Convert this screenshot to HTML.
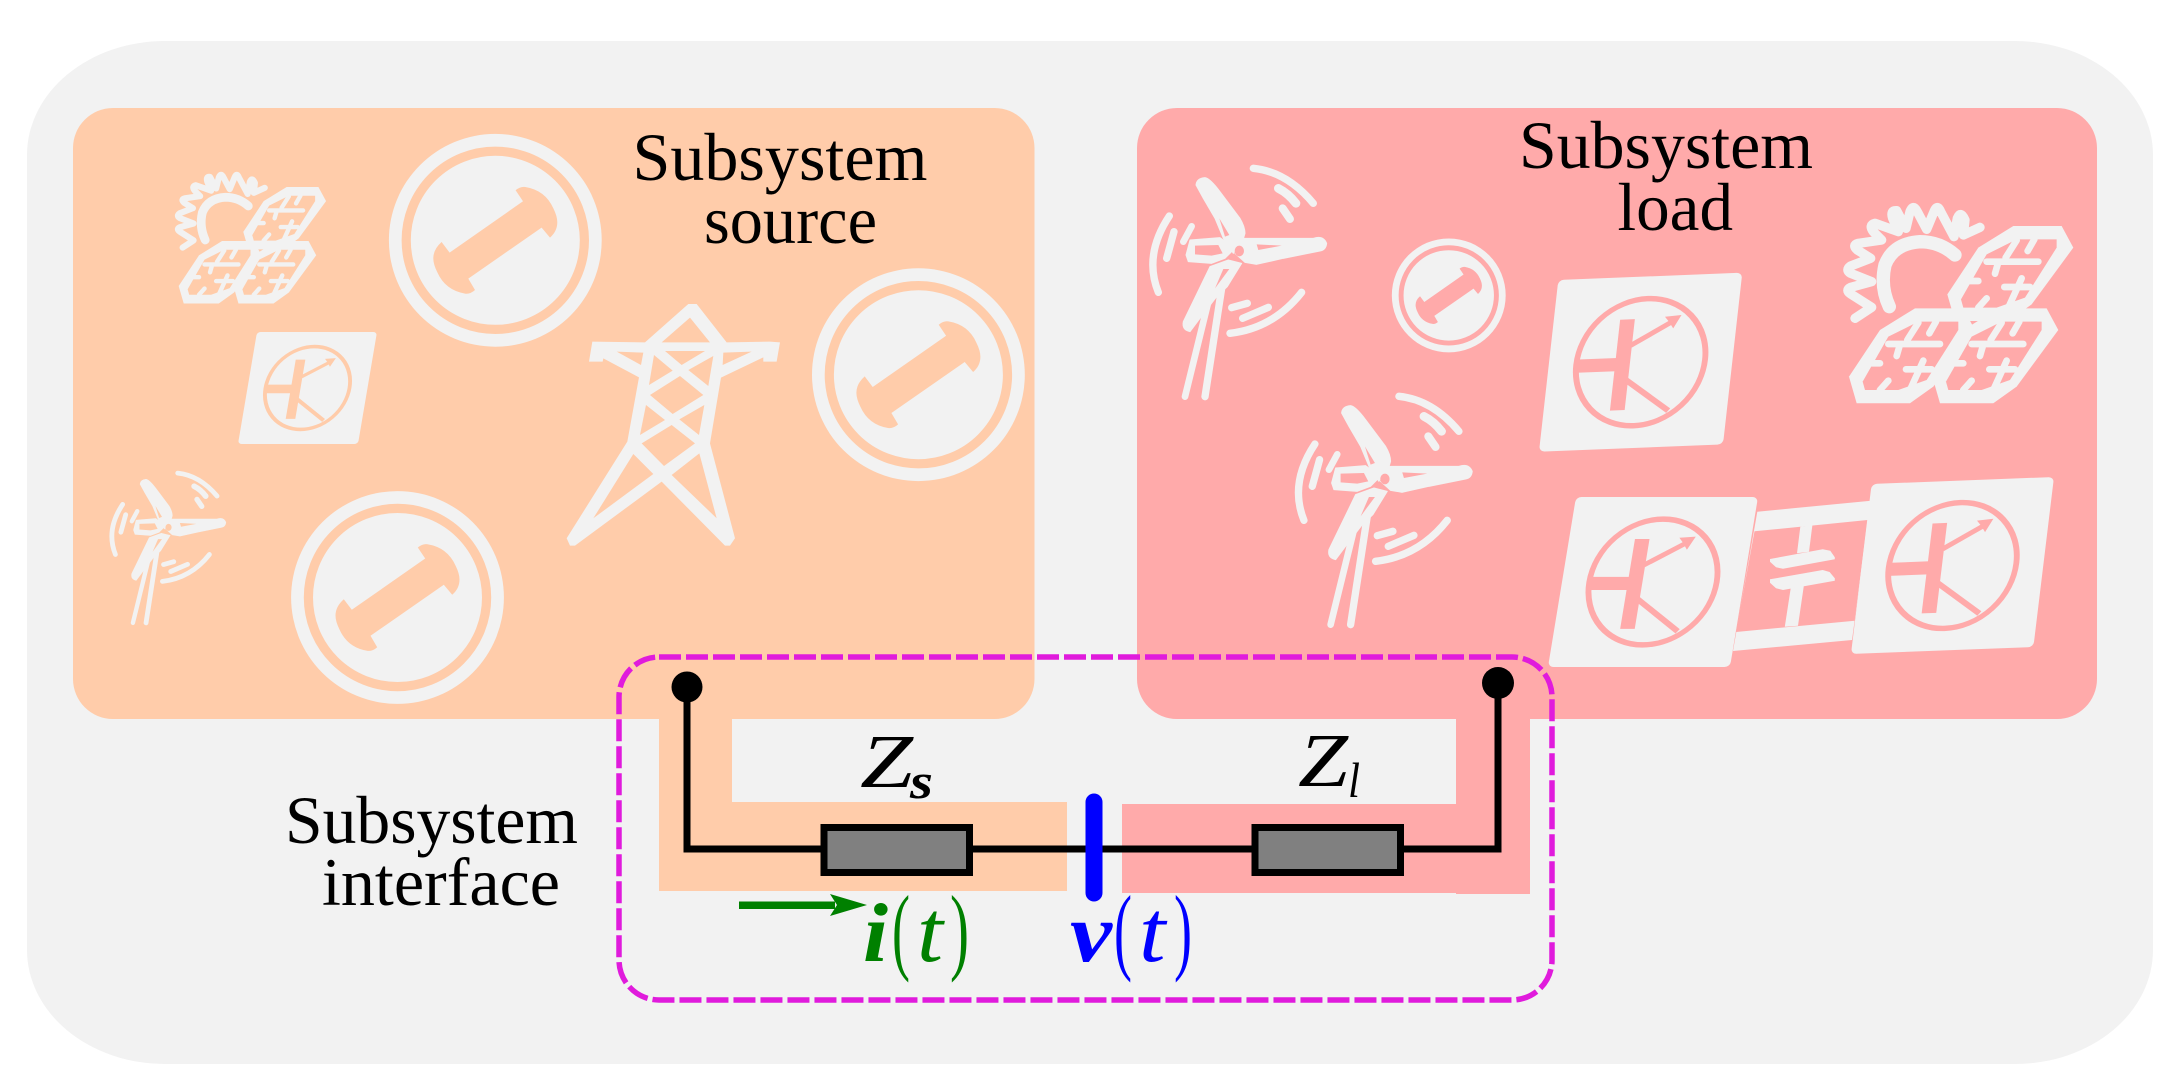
<!DOCTYPE html>
<html><head><meta charset="utf-8"><style>html,body{margin:0;padding:0;background:#fff}svg{display:block}text{font-family:"Liberation Serif",serif}</style></head>
<body>
<svg xmlns="http://www.w3.org/2000/svg" width="2175" height="1083" viewBox="0 0 2175 1083">
<defs>
<g id="machine">
<circle r="106.4" fill="#f2f2f2"/>
<circle r="89.1" fill="none" stroke="currentColor" stroke-width="9.2"/>
<path fill="currentColor" d="M20.3,-50 Q25,-54 30,-53.3 Q50,-50 58,-32 Q62,-24 62,-18 Q62,-9 54.7,-2.7 L46.3,-12.7 L-27,38.3 L-20.3,49.7 Q-25,54 -30.3,53.3 Q-50,50 -58,32 Q-62,24 -62,18 Q-62,9 -53.7,1.7 L-45.7,12.3 L27.7,-39 Z"/>
</g>
<g id="tile">
<rect x="0" y="0" width="100" height="100" rx="3" ry="3" fill="#f2f2f2"/>
<ellipse cx="50" cy="50" rx="35" ry="37" fill="none" stroke="currentColor" stroke-width="3.2"/>
<rect x="36.2" y="24.7" width="8" height="52.9" fill="currentColor"/>
<rect x="14" y="47" width="23" height="7.7" fill="currentColor"/>
<path d="M43.5,40 L64,27.5" stroke="currentColor" stroke-width="3" fill="none"/>
<polygon points="69.4,23.3 60.5,24 63,27 65.7,31" fill="currentColor"/>
<path d="M43,60 L68,79" stroke="currentColor" stroke-width="3.2" fill="none"/>
</g>
<g id="panel">
<polygon points="255,355 400,355 435,420 310,590 240,640 80,640 57,560 150,420" fill="#f2f2f2"/>
<polygon points="265,395 385,395 385,420 290,570 205,600 105,600 98,575 175,440" fill="currentColor"/>
<g stroke="#f2f2f2" stroke-width="20" stroke-linecap="round" fill="none">
<path d="M175,462 L330,462"/>
<path d="M265,398 L232,450"/>
<path d="M318,395 L298,430"/>
<path d="M208,470 L200,498"/>
<path d="M125,520 L150,520"/>
<path d="M228,538 L305,538"/>
<path d="M280,512 L240,600"/>
<path d="M175,572 L150,600"/>
</g>
</g>
<g id="solar">
<path d="M75,385 L125,352 L62,312 Q45,300 62,292 L125,275 L62,250 Q45,240 62,228 L122,205 L82,180 Q65,165 85,160 L155,150 L130,125 Q115,105 135,100 L205,125 L188,85 Q180,60 200,62 L228,115 L240,65 Q250,40 262,65 L290,118 L312,65 Q322,40 332,65 L372,140 L382,85 Q392,60 405,90 L400,135 L450,112" fill="none" stroke="#f2f2f2" stroke-width="28" stroke-linejoin="round" stroke-linecap="round"/>
<path d="M178,350 Q150,290 165,225 Q190,160 270,155 Q330,155 375,195" fill="none" stroke="#f2f2f2" stroke-width="40" stroke-linecap="round"/>
<use href="#panel" transform="translate(295,-247)"/>
<use href="#panel"/>
<use href="#panel" transform="translate(250,0)"/>
</g>
<g id="turbine">
<g stroke="#f2f2f2" fill="none" stroke-linecap="round">
<path d="M340,40 Q440,50 520,145" stroke-width="22"/>
<path d="M415,100 Q445,115 468,145" stroke-width="26"/>
<path d="M428,160 L450,192" stroke-width="24"/>
<path d="M88,183 Q10,300 55,412" stroke-width="22"/>
<path d="M102,230 L80,310" stroke-width="22"/>
<path d="M155,214 L130,260" stroke-width="20"/>
<path d="M270,535 Q400,520 485,412" stroke-width="22"/>
<path d="M308,490 L385,457" stroke-width="22"/>
<path d="M275,458 L322,445" stroke-width="22"/>
<path d="M205,440 L135,725" stroke-width="20"/>
<path d="M245,400 L195,725" stroke-width="22"/>
</g>
<g fill="#f2f2f2" stroke="#f2f2f2" stroke-width="3" stroke-linejoin="round">
<path d="M168,90 Q170,70 195,68 Q210,70 240,110 L300,190 Q315,215 315,235 L310,252 L280,295 L250,250 L225,190 L190,130 Z"/>
<path d="M310,250 L400,250 L520,250 Q550,240 560,265 Q558,285 540,288 L430,310 L350,328 L315,322 L285,295 Z"/>
<path d="M210,335 L265,315 L305,325 L262,395 L230,425 L180,490 L150,530 Q125,525 130,500 Z"/>
<path d="M150,255 L240,248 L285,280 L255,310 L215,325 L145,320 L138,300 Z"/>
</g>
<g fill="currentColor">
<polygon points="238,190 268,240 255,245"/>
<polygon points="350,268 425,272 355,285"/>
<polygon points="250,342 268,342 225,400"/>
<polygon points="165,272 235,270 248,295 215,302 165,298"/>
<ellipse cx="298" cy="288" rx="14" ry="16"/>
</g>
</g>
</defs>

<rect width="2175" height="1083" fill="#fff"/>
<rect x="27" y="41" width="2126" height="1023" rx="138" ry="114" fill="#f2f2f2"/>

<rect x="73" y="108" width="961.5" height="611" rx="40" ry="40" fill="#ffccaa"/>
<rect x="1137" y="108" width="960" height="611" rx="40" ry="40" fill="#ffaaaa"/>
<polygon points="659,700 732,700 732,802 1067,802 1067,891 659,891" fill="#ffccaa"/>
<polygon points="1456,700 1456,804 1122,804 1122,893 1456,893 1456,894 1530,894 1530,700" fill="#ffaaaa"/>

<g style="color:#ffccaa">
<use href="#machine" transform="translate(495.3,240.3)"/>
<use href="#machine" transform="translate(918.4,374.7)"/>
<use href="#machine" transform="translate(397.5,597.5)"/>
<use href="#tile" transform="matrix(1.2,0,-0.19,1.12,257,332)"/>
<use href="#solar" transform="translate(166.2,163.3) scale(0.219)"/>
<use href="#turbine" transform="translate(103.4,464.4) scale(0.2186)"/>
<g transform="translate(550,280) scale(0.3333)">
<polygon fill="#f2f2f2" points="415,72 440,72 530,187 660,185 690,187 680,245 640,245 640,232 513,293 480,490 555,775 540,797 525,797 335,605 75,797 60,797 50,775 232,485 267,292 160,235 158,245 117,245 127,185 285,187"/>
<g fill="#ffccaa">
<polygon points="420,113 480,187 335,187"/>
<polygon points="200,215 280,218 273,255"/>
<polygon points="520,218 605,215 518,255"/>
<polygon points="345,213 465,213 395,255"/>
<polygon points="312,225 368,272 297,315"/>
<polygon points="490,228 475,318 415,270"/>
<polygon points="390,288 460,345 368,402 300,345"/>
<polygon points="288,375 345,420 270,465"/>
<polygon points="463,375 447,465 388,418"/>
<polygon points="365,435 435,490 342,558 275,490"/>
<polygon points="250,522 310,582 130,715"/>
<polygon points="448,520 500,715 365,585"/>
</g>
</g>
</g>

<g style="color:#ffaaaa">
<use href="#machine" transform="translate(1448.75,295.4) scale(0.535)"/>
<use href="#turbine" transform="translate(1140,155) scale(0.3333)"/>
<use href="#turbine" transform="translate(1285.6,383) scale(0.3333)"/>
<use href="#tile" transform="matrix(1.84,-0.073,-0.193,1.717,1558.3,280)"/>
<use href="#solar" transform="translate(1830,190) scale(0.3333)"/>
<polygon points="1757.3,511.7 1870.9,500.7 1852,640 1733,651" fill="#f2f2f2"/>
<polygon points="1754.5,531.3 1867.5,520 1854.7,620.7 1736,632" fill="#ffaaaa"/>
<g fill="#f2f2f2">
<polygon points="1800.3,526.7 1812.4,525 1809,551.7 1797,553.3"/>
<polygon points="1770,559 1822.7,549.3 1830.3,550.7 1834.8,557.3 1834.8,559.3 1783,568.7 1776,567.3 1770,561.7"/>
<polygon points="1770,579.3 1822.7,570 1829.6,572 1834.8,578.3 1834.8,580.7 1783,590 1776,588.3 1770,582.7"/>
<polygon points="1790.7,588.3 1803.8,586 1798,625.7 1784.8,626.7"/>
</g>
<use href="#tile" transform="matrix(1.82,0,-0.28,1.70,1576,497)"/>
<use href="#tile" transform="matrix(1.824,-0.07,-0.206,1.70,1871.6,484)"/>
</g>

<g fill="#000" font-size="68">
<text x="632.5" y="180" textLength="295" lengthAdjust="spacingAndGlyphs">Subsystem</text>
<text x="704" y="243" textLength="173" lengthAdjust="spacingAndGlyphs">source</text>
<text x="1519" y="168" textLength="294" lengthAdjust="spacingAndGlyphs">Subsystem</text>
<text x="1617.5" y="230" textLength="115.5" lengthAdjust="spacingAndGlyphs">load</text>
<text x="285" y="843" textLength="293" lengthAdjust="spacingAndGlyphs">Subsystem</text>
<text x="322" y="905" textLength="238" lengthAdjust="spacingAndGlyphs">interface</text>
</g>

<path d="M687,687 L687,849 L1498,849 L1498,683" fill="none" stroke="#000" stroke-width="7"/>
<rect x="824" y="827.5" width="145.5" height="45" fill="#808080" stroke="#000" stroke-width="7"/>
<rect x="1255" y="827.5" width="145.5" height="45" fill="#808080" stroke="#000" stroke-width="7"/>
<circle cx="687" cy="687" r="15.5" fill="#000"/>
<circle cx="1498" cy="683" r="16" fill="#000"/>
<line x1="1094" y1="802" x2="1094" y2="893" stroke="#0000ff" stroke-width="17" stroke-linecap="round"/>

<text x="860" y="787" font-size="76" font-style="italic" textLength="53" lengthAdjust="spacingAndGlyphs">Z</text>
<text x="910" y="798" font-size="50" font-style="italic" font-weight="bold" textLength="23" lengthAdjust="spacingAndGlyphs">s</text>
<text x="1298" y="786" font-size="76" font-style="italic" textLength="50" lengthAdjust="spacingAndGlyphs">Z</text>
<text x="1348" y="797" font-size="50" font-style="italic" textLength="12" lengthAdjust="spacingAndGlyphs">l</text>

<g fill="#008000">
<rect x="739" y="901.5" width="96" height="7.5"/>
<polygon points="867,905 830,894 837,905 830,916"/>
<text x="863" y="961" font-size="84" font-style="italic" font-weight="bold" textLength="25" lengthAdjust="spacingAndGlyphs">i</text>
<text x="892" y="962" font-size="96" textLength="18" lengthAdjust="spacingAndGlyphs">(</text>
<text x="917" y="961" font-size="88" font-style="italic" textLength="26" lengthAdjust="spacingAndGlyphs">t</text>
<text x="950" y="962" font-size="96" textLength="19" lengthAdjust="spacingAndGlyphs">)</text>
</g>
<g fill="#0000ff">
<text x="1070" y="961" font-size="84" font-style="italic" font-weight="bold" textLength="42" lengthAdjust="spacingAndGlyphs">v</text>
<text x="1114" y="962" font-size="96" textLength="18" lengthAdjust="spacingAndGlyphs">(</text>
<text x="1139" y="961" font-size="88" font-style="italic" textLength="26.5" lengthAdjust="spacingAndGlyphs">t</text>
<text x="1174" y="962" font-size="96" textLength="18" lengthAdjust="spacingAndGlyphs">)</text>
</g>

<rect x="619" y="657" width="933" height="343" rx="40" ry="40" fill="none" stroke="#e01bdc" stroke-width="5.5" stroke-dasharray="22 5"/>
</svg>
</body></html>
